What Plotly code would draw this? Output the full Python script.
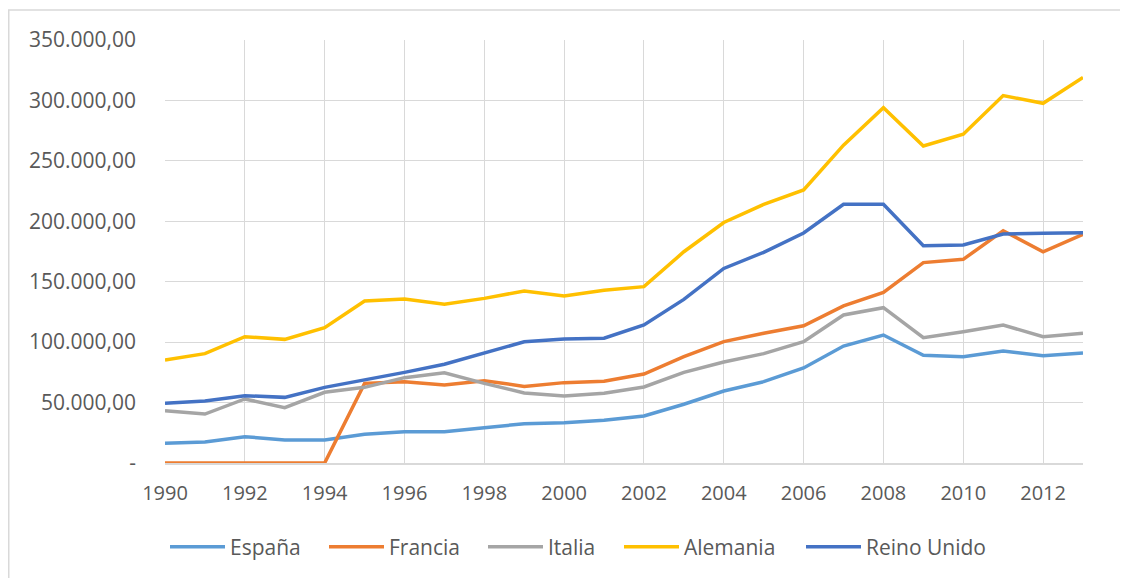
import plotly.graph_objects as go

years = list(range(1990, 2014))

espana = [16.3, 17.4, 21.8, 19.0, 19.0, 23.7, 25.9, 25.9, 29.2, 32.5, 33.4, 35.3,
          38.9, 48.6, 59.6, 67.3, 78.6, 96.8, 105.9, 89.1, 88.0, 92.7, 88.8, 91.0]
francia = [0, 0, 0, 0, 0, 65.9, 67.3, 64.5, 68.1, 63.4, 66.5, 67.6,
           73.6, 88.0, 100.4, 107.3, 113.6, 130.0, 141.2, 165.8, 168.5, 192.2, 174.8, 189.2]
italia = [43.3, 40.5, 53.0, 45.8, 58.5, 62.6, 70.6, 74.7, 65.9, 58.0, 55.4, 57.7,
          62.9, 75.0, 83.6, 90.5, 100.4, 122.5, 128.5, 103.7, 108.6, 114.2, 104.5, 107.3]
alemania = [85.2, 90.5, 104.5, 102.3, 112.0, 134.0, 135.7, 131.3, 136.2, 142.3, 138.2, 143.0,
            145.9, 174.8, 199.0, 214.0, 225.9, 263.0, 294.0, 262.3, 272.0, 304.0, 297.6, 319.0]
reino_unido = [49.4, 51.3, 55.7, 54.3, 62.6, 68.7, 75.0, 81.7, 91.3, 100.3, 102.6, 103.2,
               114.2, 135.4, 161.0, 174.3, 190.3, 214.0, 214.0, 179.8, 180.4, 189.5, 190.0, 190.6]

series_names = ["España", "Francia", "Italia", "Alemania", "Reino Unido"]
series_values = [espana, francia, italia, alemania, reino_unido]
colors = ["#5B9BD5", "#ED7D31", "#A5A5A5", "#FFC000", "#4472C4"]

y_tickvals = [0, 50000, 100000, 150000, 200000, 250000, 300000, 350000]
y_ticktext = ["-", "50.000,00", "100.000,00", "150.000,00", "200.000,00",
              "250.000,00", "300.000,00", "350.000,00"]

FONT = "Open Sans"
TXT = "#595959"

# plot area in figure pixels (page body has an 8px margin)
L, R, T, B = 157, 53, 32, 123
PW = 1128 - L - R

# legend entry start positions (page px) to mimic the spaced-out legend row
legend_page_x = [170, 329, 488, 624, 806]
legend_ids = ["legend", "legend2", "legend3", "legend4", "legend5"]

fig = go.Figure()
for name, vals, col, lid in zip(series_names, series_values, colors, legend_ids):
    fig.add_trace(go.Scatter(
        x=years, y=[v * 1000 for v in vals], name=name, mode="lines",
        line=dict(color=col, width=3.5), legend=lid,
    ))

legend_layout = {}
for lid, px in zip(legend_ids, legend_page_x):
    legend_layout[lid] = dict(
        orientation="h", x=(px - 8 - L - 5) / PW, xanchor="left",
        y=-0.199, yanchor="middle",
        font=dict(family=FONT, size=21, color=TXT), bgcolor="rgba(0,0,0,0)",
        itemwidth=55,
    )

fig.update_layout(
    width=1128, height=578,
    paper_bgcolor="white", plot_bgcolor="white",
    margin=dict(l=L, r=R, t=T, b=B),
    font=dict(family=FONT, size=21, color=TXT),
    showlegend=True,
    xaxis=dict(range=[1990, 2013], tickmode="linear", tick0=1990, dtick=2,
               showgrid=True, gridcolor="#D9D9D9", gridwidth=1.3,
               showline=True, linecolor="#D9D9D9", linewidth=1.5,
               ticks="", ticklabelstandoff=11, zeroline=False,
               tickfont=dict(family=FONT, size=20, color=TXT)),
    yaxis=dict(range=[0, 350000], tickmode="array", tickvals=y_tickvals, ticktext=y_ticktext,
               showgrid=True, gridcolor="#D9D9D9", gridwidth=1.3,
               showline=False, zeroline=False, ticks="", ticklabelstandoff=28,
               tickfont=dict(family=FONT, size=21, color=TXT)),
    shapes=[dict(type="rect", xref="paper", yref="paper",
                 x0=-0.1702, x1=1.0566, y0=-0.29, y1=1.0709,
                 line=dict(color="#D9D9D9", width=1.5), fillcolor="rgba(0,0,0,0)", layer="below")],
    **legend_layout,
)

fig.write_html("out.html")
